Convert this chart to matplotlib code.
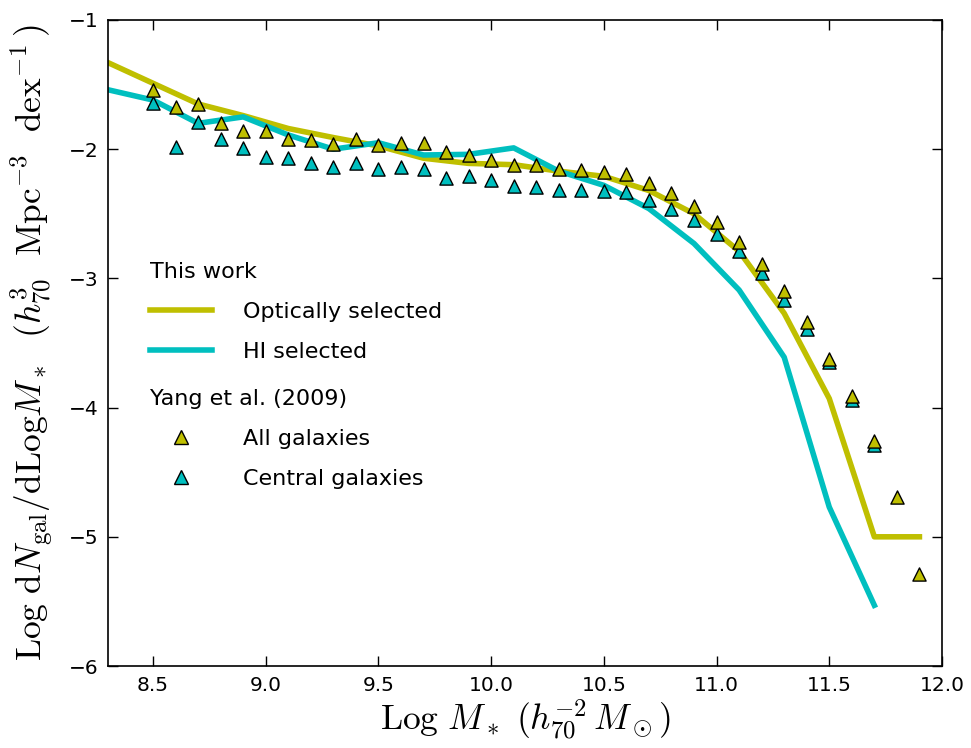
import numpy as np
import matplotlib
matplotlib.use("Agg")
import matplotlib.pyplot as plt
from matplotlib.lines import Line2D

# this work: mass functions (0.2 dex bins)
m_opt = [8.3, 8.5, 8.7, 8.9, 9.1, 9.3, 9.5, 9.7, 9.9, 10.1, 10.3, 10.5,
         10.7, 10.9, 11.1, 11.3, 11.5, 11.7, 11.9]
phi_opt = [-1.33, -1.49, -1.65, -1.74, -1.84, -1.91, -1.975, -2.07, -2.11,
           -2.12, -2.17, -2.21, -2.32, -2.50, -2.79, -3.27, -3.93, -5.0, -5.0]

m_hi = [8.3, 8.5, 8.7, 8.9, 9.1, 9.3, 9.5, 9.7, 9.9, 10.1, 10.3, 10.5,
        10.7, 10.9, 11.1, 11.3, 11.5, 11.7]
phi_hi = [-1.54, -1.62, -1.80, -1.75, -1.89, -2.0, -1.95, -2.045, -2.04,
          -1.99, -2.17, -2.28, -2.46, -2.73, -3.09, -3.61, -4.77, -5.53]

# Yang et al. (2009)
m_yang_all = [8.5, 8.6, 8.7, 8.8, 8.9, 9.0, 9.1, 9.2, 9.3, 9.4, 9.5, 9.6,
              9.7, 9.8, 9.9, 10.0, 10.1, 10.2, 10.3, 10.4, 10.5, 10.6, 10.7,
              10.8, 10.9, 11.0, 11.1, 11.2, 11.3, 11.4, 11.5, 11.6, 11.7,
              11.8, 11.9]
phi_yang_all = [-1.54, -1.67, -1.65, -1.80, -1.86, -1.86, -1.92, -1.93,
                -1.96, -1.92, -1.965, -1.95, -1.95, -2.02, -2.045, -2.08,
                -2.12, -2.125, -2.155, -2.16, -2.175, -2.195, -2.26, -2.34,
                -2.44, -2.56, -2.715, -2.89, -3.10, -3.34, -3.62, -3.91,
                -4.26, -4.69, -5.29]

m_yang_cen = m_yang_all[:33]
phi_yang_cen = [-1.64, -1.98, -1.79, -1.92, -1.99, -2.06, -2.07, -2.11,
                -2.135, -2.11, -2.15, -2.14, -2.15, -2.225, -2.205, -2.24,
                -2.285, -2.295, -2.315, -2.315, -2.325, -2.33, -2.39, -2.46,
                -2.55, -2.655, -2.79, -2.96, -3.17, -3.39, -3.65, -3.94,
                -4.29]

yel = (0.75, 0.75, 0.0)
cya = (0.0, 0.75, 0.75)

plt.rcParams['mathtext.fontset'] = 'cm'
plt.rcParams['font.family'] = 'DejaVu Sans'

fig = plt.figure(figsize=(9.71, 7.48), dpi=100)
ax = fig.add_axes([0.1112, 0.1096, 0.8589, 0.8637])

l1, = ax.plot(m_opt, phi_opt, color=yel, lw=4, zorder=2)
l2, = ax.plot(m_hi, phi_hi, color=cya, lw=4, zorder=2)
ax.scatter(m_yang_cen, phi_yang_cen, marker='^', s=90, c=[cya],
           edgecolors='k', linewidths=1, zorder=3)
ax.scatter(m_yang_all, phi_yang_all, marker='^', s=90, c=[yel],
           edgecolors='k', linewidths=1, zorder=4)

ax.set_xlim(8.3, 12.0)
ax.set_ylim(-6, -1)
ax.set_xticks(np.arange(8.5, 12.01, 0.5))
ax.set_yticks([-6, -5, -4, -3, -2, -1])
ax.tick_params(direction='in', top=True, right=True, length=7, width=1,
               labelsize=14.5, pad=7)
for s in ax.spines.values():
    s.set_linewidth(1.2)

ax.set_xlabel(r'$\mathrm{Log}\ M_*\ (h_{70}^{-2}\,M_\odot)$', fontsize=25.5,
              labelpad=2)
ax.set_ylabel(r'$\mathrm{Log}\ \mathrm{d}N_{\rm gal}/\mathrm{dLog}M_*\ \ '
              r'(h_{70}^{3}\ \ \mathrm{Mpc}^{-3}\ \ \mathrm{dex}^{-1}\,)$',
              fontsize=25.5, labelpad=10)

leg_kw = dict(loc='upper left', frameon=False, fontsize=16,
              title_fontsize=16, handlelength=2.8, handletextpad=1.4,
              labelspacing=0.9, alignment='left', borderpad=0,
              borderaxespad=0)

leg1 = ax.legend([l1, l2], ['Optically selected', 'HI selected'],
                 title='This work', bbox_to_anchor=(0.05, 0.626), **leg_kw)
ax.add_artist(leg1)

h1 = Line2D([], [], ls='none', marker='^', markersize=10, color=yel,
            markeredgecolor='k', markeredgewidth=1)
h2 = Line2D([], [], ls='none', marker='^', markersize=10, color=cya,
            markeredgecolor='k', markeredgewidth=1)
ax.legend([h1, h2], ['All galaxies', 'Central galaxies'],
          title='Yang et al. (2009)', bbox_to_anchor=(0.05, 0.4295), **leg_kw)

fig.savefig('out.png', dpi=100)
